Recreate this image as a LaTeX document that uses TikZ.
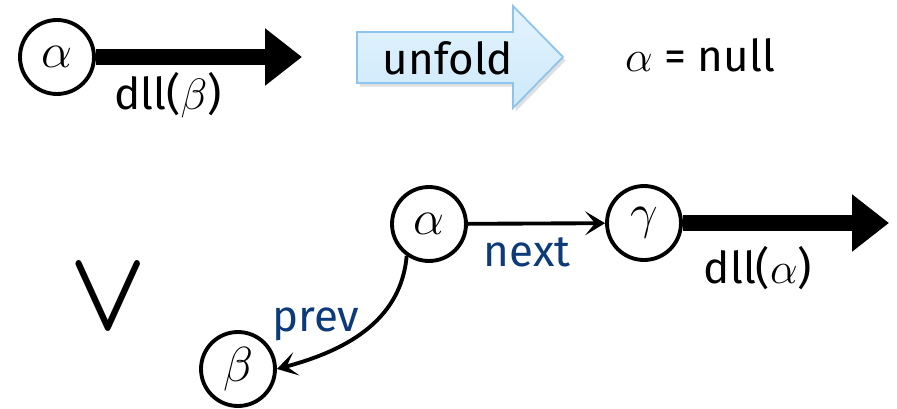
\RequirePackage{fix-cm}
\documentclass[tikz,border=0pt]{standalone}
\usepackage{fontspec}
\setmainfont{Fira Sans}
\usepackage{tikz}
\usetikzlibrary{
arrows.meta,
shadows
}
\definecolor{LinkBlue}{HTML}{0D3B7A}
\definecolor{UnfoldFill}{HTML}{CDE9FB}
\definecolor{UnfoldEdge}{HTML}{8CC4EE}

\begin{document}
\begin{tikzpicture}[x=0.02cm, y=-0.02cm,
    every node/.style={font=\fontsize{25}{30}\selectfont},
    cell/.style={circle, draw, line width=2.2pt, minimum size=1.48cm, inner sep=0pt,
        font=\fontsize{28}{34}\selectfont},
    heavy/.style={line width=0.34cm, -{Triangle[length=0.74cm, width=1.1cm]}},
    link/.style={line width=2.2pt, -{Stealth[length=0.4cm, width=0.48cm, inset=0.2cm]}},
    linklbl/.style={text=LinkBlue}]
    \useasboundingbox (0,0) rectangle (897,409);

    % Case 1: empty list
    \node[cell] (a1) at (57,57) {$\alpha$};
    \coordinate (a1end) at (302,57);
    \draw[heavy] (a1.east) -- (a1end);
    \node (dll1) at (168,95) {dll($\beta$)};

    % unfold arrow
    \filldraw[draw=UnfoldEdge, line width=1pt, top color=UnfoldFill!55, bottom color=UnfoldFill,
        drop shadow={opacity=0.25, shadow xshift=1.5pt, shadow yshift=-2pt}]
        (357,32) -- (513,32) -- (513,6) -- (563,57) -- (513,108) -- (513,83) -- (357,83) -- cycle;
    \node (unfold) at (448,58) {unfold};
    \node (isnull) at (700,55) {$\alpha$ = null};

    % or
    \node (orsym) at (108,298) {\scalebox{2.3}[2.6]{\boldmath$\vee$}};

    % Case 2: non-empty list
    \node[cell] (a2) at (429,224) {$\alpha$};
    \node[cell] (g) at (644,223) {$\gamma$};
    \node[cell] (b) at (238,369) {$\beta$};
    \draw[link] (a2) -- (g);
    \node[linklbl] (next) at (527,252) {next};
    \draw[link] (a2.235) to[out=-95, in=15] (b.east);
    \node[linklbl] (prev) at (316,324) {prev};
    \coordinate (gend) at (889,223);
    \draw[heavy] (g.east) -- (gend);
    \node (dll2) at (758,268) {dll($\alpha$)};
\end{tikzpicture}
\end{document}
